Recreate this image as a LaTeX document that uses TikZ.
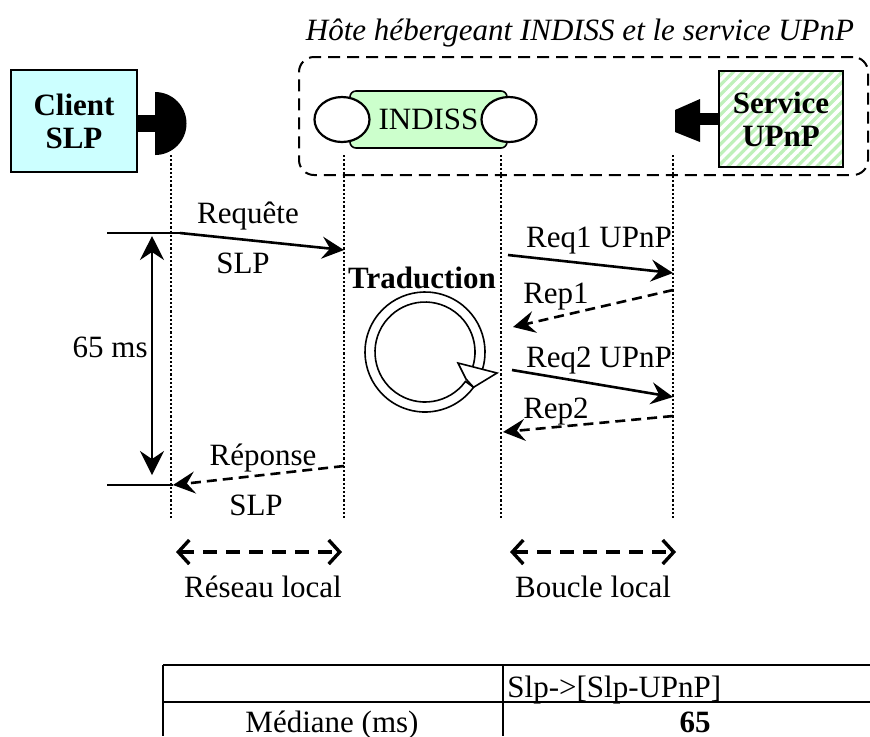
\documentclass[tikz,border=0pt]{standalone}
\usepackage{fontspec}
\setmainfont{Liberation Serif}
\usetikzlibrary{arrows.meta, positioning, shapes.geometric, patterns.meta, calc}
\definecolor{cli}{RGB}{204,255,255}
\definecolor{ind}{RGB}{204,255,204}
\definecolor{hatch}{RGB}{190,240,185}
\newcommand{\figfont}{\fontsize{15.5}{16.5}\selectfont}

\begin{document}
\begin{tikzpicture}[
    x=0.5pt, y=-0.5pt,
    every node/.style={font=\figfont, inner sep=0pt},
    box/.style={rectangle, draw, line width=1pt, align=center, font=\figfont\bfseries},
    port/.style={ellipse, draw, line width=1.1pt, fill=white, minimum width=27.5pt, minimum height=22.5pt},
    life/.style={line width=1.2pt, dash pattern=on 1.1pt off 1pt},
    msg/.style={-{Stealth[length=11pt, width=11pt, inset=4pt]}, line width=1.3pt},
    rep/.style={msg, dash pattern=on 5pt off 3pt},
    tick/.style={line width=0.8pt},
    span/.style={{Straight Barb[length=5.5pt, width=12pt]}-{Straight Barb[length=5.5pt, width=12pt]}, line width=1.7pt, dash pattern=on 7pt off 4.5pt},
    lbl/.style={anchor=base}
  ]
  \useasboundingbox (0,0) rectangle (870,736);

  % host of INDISS and the UPnP service
  \node[draw, line width=1pt, dash pattern=on 6pt off 3.5pt, rounded corners=7.5pt,
        minimum width=284.5pt, minimum height=59pt] (host) at (583.5,116) {};
  \node[lbl, font=\figfont\itshape] (hosttitle) at (580,40) {Hôte hébergeant INDISS et le service UPnP};

  % actors
  \node[box, fill=cli, minimum width=63pt, minimum height=51pt] (client) at (74,121) {Client\\SLP};
  \node[box, minimum width=62pt, minimum height=48pt,
        pattern={Lines[angle=45, distance=3.5pt, line width=1.6pt]}, pattern color=hatch] (service) at (781,119) {Service\\UPnP};
  \node[rectangle, draw, line width=0.8pt, rounded corners=3pt, fill=ind,
        minimum width=78.5pt, minimum height=28.5pt] (indiss) at (428.5,119.5) {INDISS};
  \node[port] (portL) at (342,119.5) {};
  \node[port] (portR) at (509,119.5) {};

  % plugs
  \fill (137,115) rectangle (155,132);
  \fill (155,92) arc[start angle=-90, end angle=90, radius=31.5] -- cycle;
  \fill (700,113) rectangle (719,125);
  \fill (675,110) -- (700,99) -- (700,142) -- (675,132) -- cycle;

  % lifelines
  \foreach \n/\x in {cli/171, inl/344, inr/501, srv/673} {
    \coordinate (\n top) at (\x,155);
    \coordinate (\n bot) at (\x,520);
    \draw[life] (\n top) -- (\n bot);
  }

  % SLP request / response
  \coordinate (tickA) at (107,233);
  \coordinate (reqA) at (180,233);
  \coordinate (reqB) at (344,250);
  \coordinate (tickB) at (107,485);
  \coordinate (repA) at (344,466);
  \coordinate (repB) at (173,485);
  \draw[tick] (tickA) -- (reqA);
  \draw[tick] (tickB) -- (repB);
  \draw[msg] (reqA) -- (reqB);
  \draw[rep] (repA) -- (repB);
  \node[lbl] (lblreq) at (248,223) {Requête};
  \node[lbl] (lblreqslp) at (243,273) {SLP};
  \node[lbl] (lblrep) at (263,465) {Réponse};
  \node[lbl] (lblrepslp) at (256,515) {SLP};

  % duration
  \coordinate (durA) at (152,236);
  \coordinate (durB) at (152,475);
  \draw[{Stealth[length=12pt, width=12pt, inset=4pt]}-{Stealth[length=12pt, width=12pt, inset=4pt]}, line width=0.8pt] (durA) -- (durB);
  \node[lbl, anchor=base east] (lbldur) at (148,357) {65 ms};

  % translation loop
  \coordinate (loop) at (425,352);
  \node[lbl, font=\figfont\bfseries] (lbltrad) at (422,288) {Traduction};
  \filldraw[fill=white, line width=0.8pt] ($(loop)+(22:60)$) arc[start angle=22, end angle=-324, radius=60]
    -- ($(loop)+(-324:50)$) arc[start angle=-324, end angle=22, radius=50] -- cycle;
  \filldraw[fill=white, line width=0.8pt] (458,363) -- (497,373) -- ($(loop)+(36:60)$) -- (466,379) -- cycle;

  % UPnP exchanges
  \coordinate (r1A) at (508,255);
  \coordinate (r1B) at (673,273);
  \coordinate (p1A) at (673,290);
  \coordinate (p1B) at (513,327);
  \coordinate (r2A) at (512,370);
  \coordinate (r2B) at (673,397);
  \coordinate (p2A) at (673,416);
  \coordinate (p2B) at (503,432);
  \draw[msg] (r1A) -- (r1B);
  \draw[rep] (p1A) -- (p1B);
  \draw[msg] (r2A) -- (r2B);
  \draw[rep] (p2A) -- (p2B);
  \node[lbl] (lblr1) at (599,247) {Req1 UPnP};
  \node[lbl] (lblp1) at (556,303) {Rep1};
  \node[lbl] (lblr2) at (599,367) {Req2 UPnP};
  \node[lbl] (lblp2) at (556,418) {Rep2};

  % network spans
  \coordinate (netA) at (176,552);
  \coordinate (netB) at (342,552);
  \coordinate (lpA) at (510,552);
  \coordinate (lpB) at (676,552);
  \draw[span] (netA) -- (netB);
  \draw[span] (lpA) -- (lpB);
  \node[lbl] (lblnet) at (263,597) {Réseau local};
  \node[lbl] (lbllp) at (593,597) {Boucle local};

  % result table
  \draw[line width=1pt] (163,665) -- (870,665) (163,702) -- (870,702)
    (163,665) -- (163,736) (503,665) -- (503,736);
  \node[lbl, anchor=base west] (colhead) at (507,697) {Slp->[Slp-UPnP]};
  \node[lbl] (rowhead) at (332,732) {Médiane (ms)};
  \node[lbl, font=\figfont\bfseries] (median) at (695,732) {65};
\end{tikzpicture}
\end{document}
